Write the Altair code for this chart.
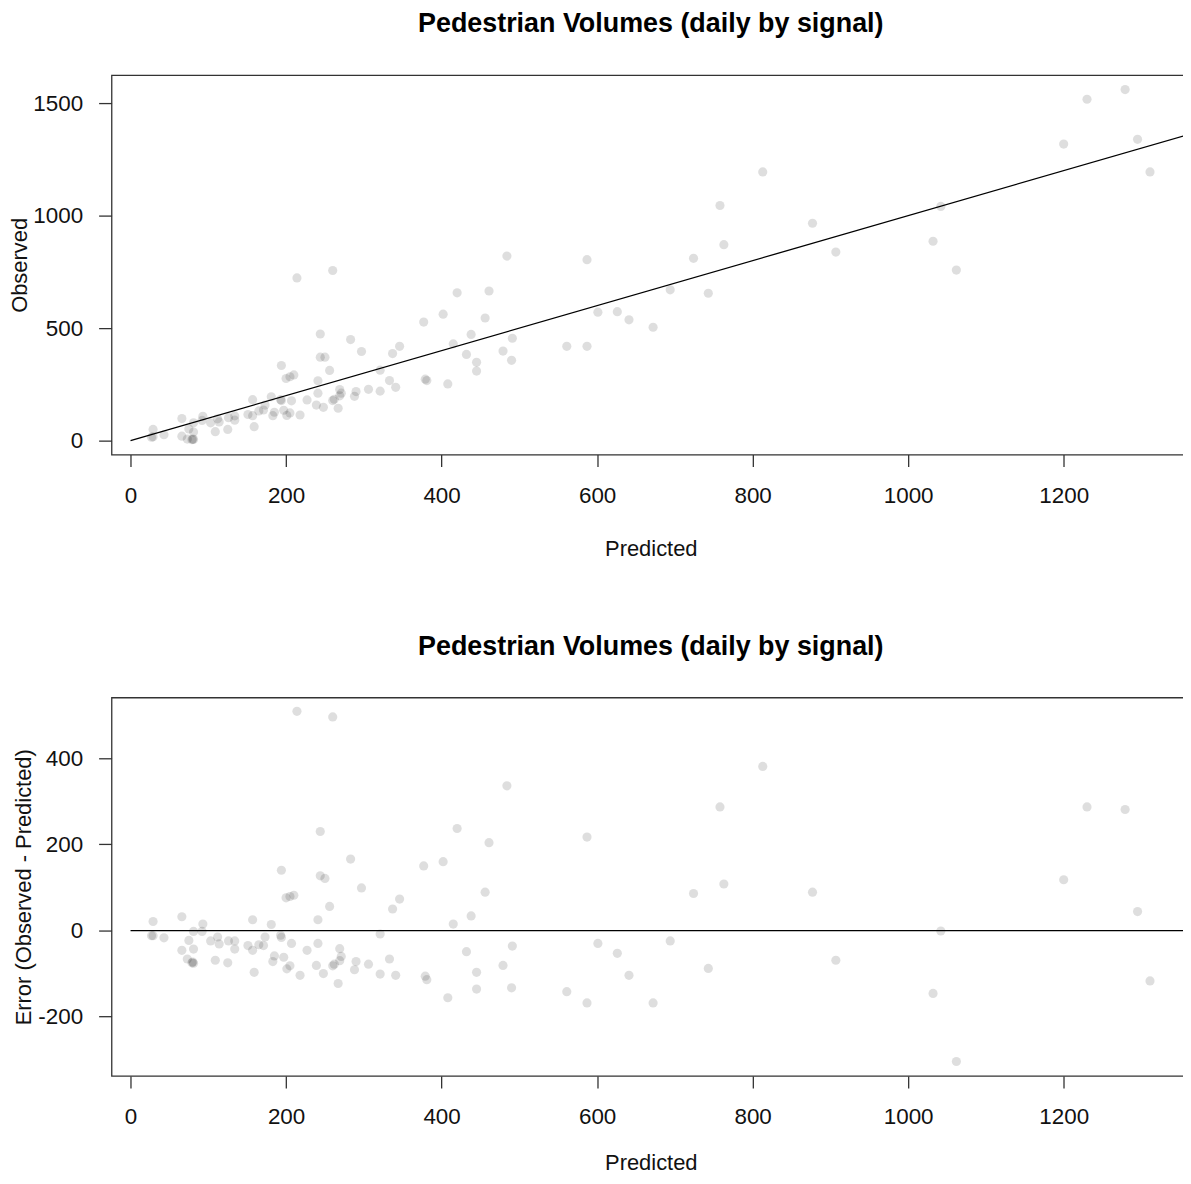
import altair as alt
import pandas as pd

predicted = [214, 194, 200, 205, 210, 29, 66, 93, 81, 157, 181, 27, 29, 43, 75, 92, 103, 112, 114, 126,
             134, 134, 151, 157, 165, 171, 173, 193, 194, 207, 227, 66, 81, 73, 80, 81, 79, 109, 125, 159,
             185, 183, 197, 201, 205, 218, 260, 484, 244, 420, 461, 283, 377, 402, 244, 250, 297, 456, 256, 346,
             337, 438, 415, 241, 321, 491, 241, 269, 271, 269, 262, 260, 239, 248, 267, 290, 288, 306, 321, 333,
             341, 379, 381, 408, 432, 445, 445, 479, 490, 813, 758, 587, 763, 724, 877, 601, 694, 626, 641, 743,
             907, 561, 587, 672, 1230, 1279, 1200, 1295, 1042, 1311, 1032, 1062]
observed = [723, 334, 276, 284, 292, 50, 98, 108, 79, 182, 195, 15, 17, 26, 52, 90, 79, 97, 83, 102,
            110, 91, 116, 111, 132, 136, 158, 182, 178, 177, 181, 20, 38, 7, 7, 5, 4, 40, 50, 62,
            126, 111, 135, 112, 123, 114, 756, 820, 474, 657, 665, 449, 527, 562, 371, 371, 396, 545, 312, 419,
            387, 472, 430, 266, 313, 455, 211, 227, 211, 199, 184, 178, 158, 148, 144, 218, 197, 228, 220, 267,
            237, 273, 267, 252, 383, 348, 309, 398, 357, 1194, 1045, 804, 871, 810, 966, 571, 670, 573, 537, 655,
            838, 419, 419, 504, 1517, 1560, 1318, 1339, 1041, 1194, 886, 758]
error = [509, 140, 76, 79, 82, 21, 32, 15, -2, 25, 14, -12, -12, -17, -23, -2, -24, -15, -31, -24,
         -24, -43, -35, -46, -33, -35, -15, -11, -16, -30, -46, -46, -43, -66, -73, -76, -75, -69, -75, -97,
         -59, -72, -62, -89, -82, -104, 496, 336, 230, 237, 204, 166, 150, 160, 127, 121, 99, 89, 56, 73,
         50, 34, 15, 25, -8, -36, -30, -42, -60, -70, -78, -82, -81, -100, -123, -72, -91, -78, -101, -66,
         -104, -106, -114, -156, -49, -97, -136, -81, -133, 381, 287, 217, 108, 86, 89, -30, -24, -53, -104, -88,
         -69, -142, -168, -168, 287, 281, 118, 44, -1, -117, -146, -304]

x_ticks = [0, 200, 400, 600, 800, 1000, 1200]
y1_ticks = [0, 500, 1000, 1500]
y2_ticks = [-200, 0, 200, 400]

ref_line = pd.DataFrame({"x": [0, 1400], "y": [0, 1400]})
zero_line = pd.DataFrame({"x": [0, 1400], "y": [0, 0]})

df = pd.DataFrame({"Predicted": predicted, "Observed": observed, "Error": error})

FONT = "Liberation Sans"
PW = 1083
XDOM = [-24.4, 1362.4]
LBL = "'' + datum.value"


def xaxis(title_pad):
    return alt.Axis(values=x_ticks, tickSize=12, tickWidth=1.3, tickColor="#333",
                    domain=False, grid=False, labelFontSize=22.5, labelFont=FONT,
                    labelColor="#111", labelPadding=18, labelFlush=False, labelExpr=LBL,
                    titleFontSize=22, titleFont=FONT, titleFontWeight="normal",
                    titleColor="#111", titlePadding=title_pad)


def yaxis(ticks, title_x, ph):
    return alt.Axis(values=ticks, tickSize=13, tickWidth=1.3, tickColor="#333",
                    domain=False, grid=False, labelFontSize=22.5, labelFont=FONT,
                    labelColor="#111", labelPadding=16, labelFlush=False, labelExpr=LBL,
                    titleFontSize=22, titleFont=FONT, titleFontWeight="normal",
                    titleColor="#111", titleX=title_x, titleY=ph / 2,
                    titleBaseline="alphabetic", titleAngle=270)


def xenc(title_pad):
    return alt.X("Predicted:Q", title="Predicted",
                 scale=alt.Scale(domain=XDOM, nice=False, zero=False),
                 axis=xaxis(title_pad))


title_cfg = dict(fontSize=27, font=FONT, fontWeight="bold", color="#000", offset=37, anchor="middle")

pts1 = alt.Chart(df).mark_circle(size=85, color="#000", opacity=0.13).encode(
    x=xenc(32),
    y=alt.Y("Observed:Q", title="Observed",
            scale=alt.Scale(domain=[-62, 1624], nice=False, zero=False),
            axis=yaxis(y1_ticks, -85, 381)),
)
line1 = alt.Chart(ref_line).mark_line(color="#000", strokeWidth=1.3, clip=True).encode(
    x=alt.X("x:Q"), y=alt.Y("y:Q"))
top = alt.layer(pts1, line1).properties(
    width=PW, height=381,
    title=alt.TitleParams("Pedestrian Volumes (daily by signal)", **title_cfg))

pts2 = alt.Chart(df).mark_circle(size=85, color="#000", opacity=0.13).encode(
    x=xenc(24),
    y=alt.Y("Error:Q", title="Error (Observed - Predicted)",
            scale=alt.Scale(domain=[-337.6, 541], nice=False, zero=False),
            axis=yaxis(y2_ticks, -81, 380)),
)
line2 = alt.Chart(zero_line).mark_line(color="#000", strokeWidth=1.3, clip=True).encode(
    x=alt.X("x:Q"), y=alt.Y("y:Q"))
bottom = alt.layer(pts2, line2).properties(
    width=PW, height=380,
    title=alt.TitleParams("Pedestrian Volumes (daily by signal)", **title_cfg))

chart = alt.vconcat(top, bottom, spacing=71).properties(
    padding={"left": 0, "top": -1, "right": -8, "bottom": -2},
    background="white",
).configure_view(stroke="#333", strokeWidth=1.3)

chart.save("out.html", embed_options={"renderer": "svg", "actions": False})
